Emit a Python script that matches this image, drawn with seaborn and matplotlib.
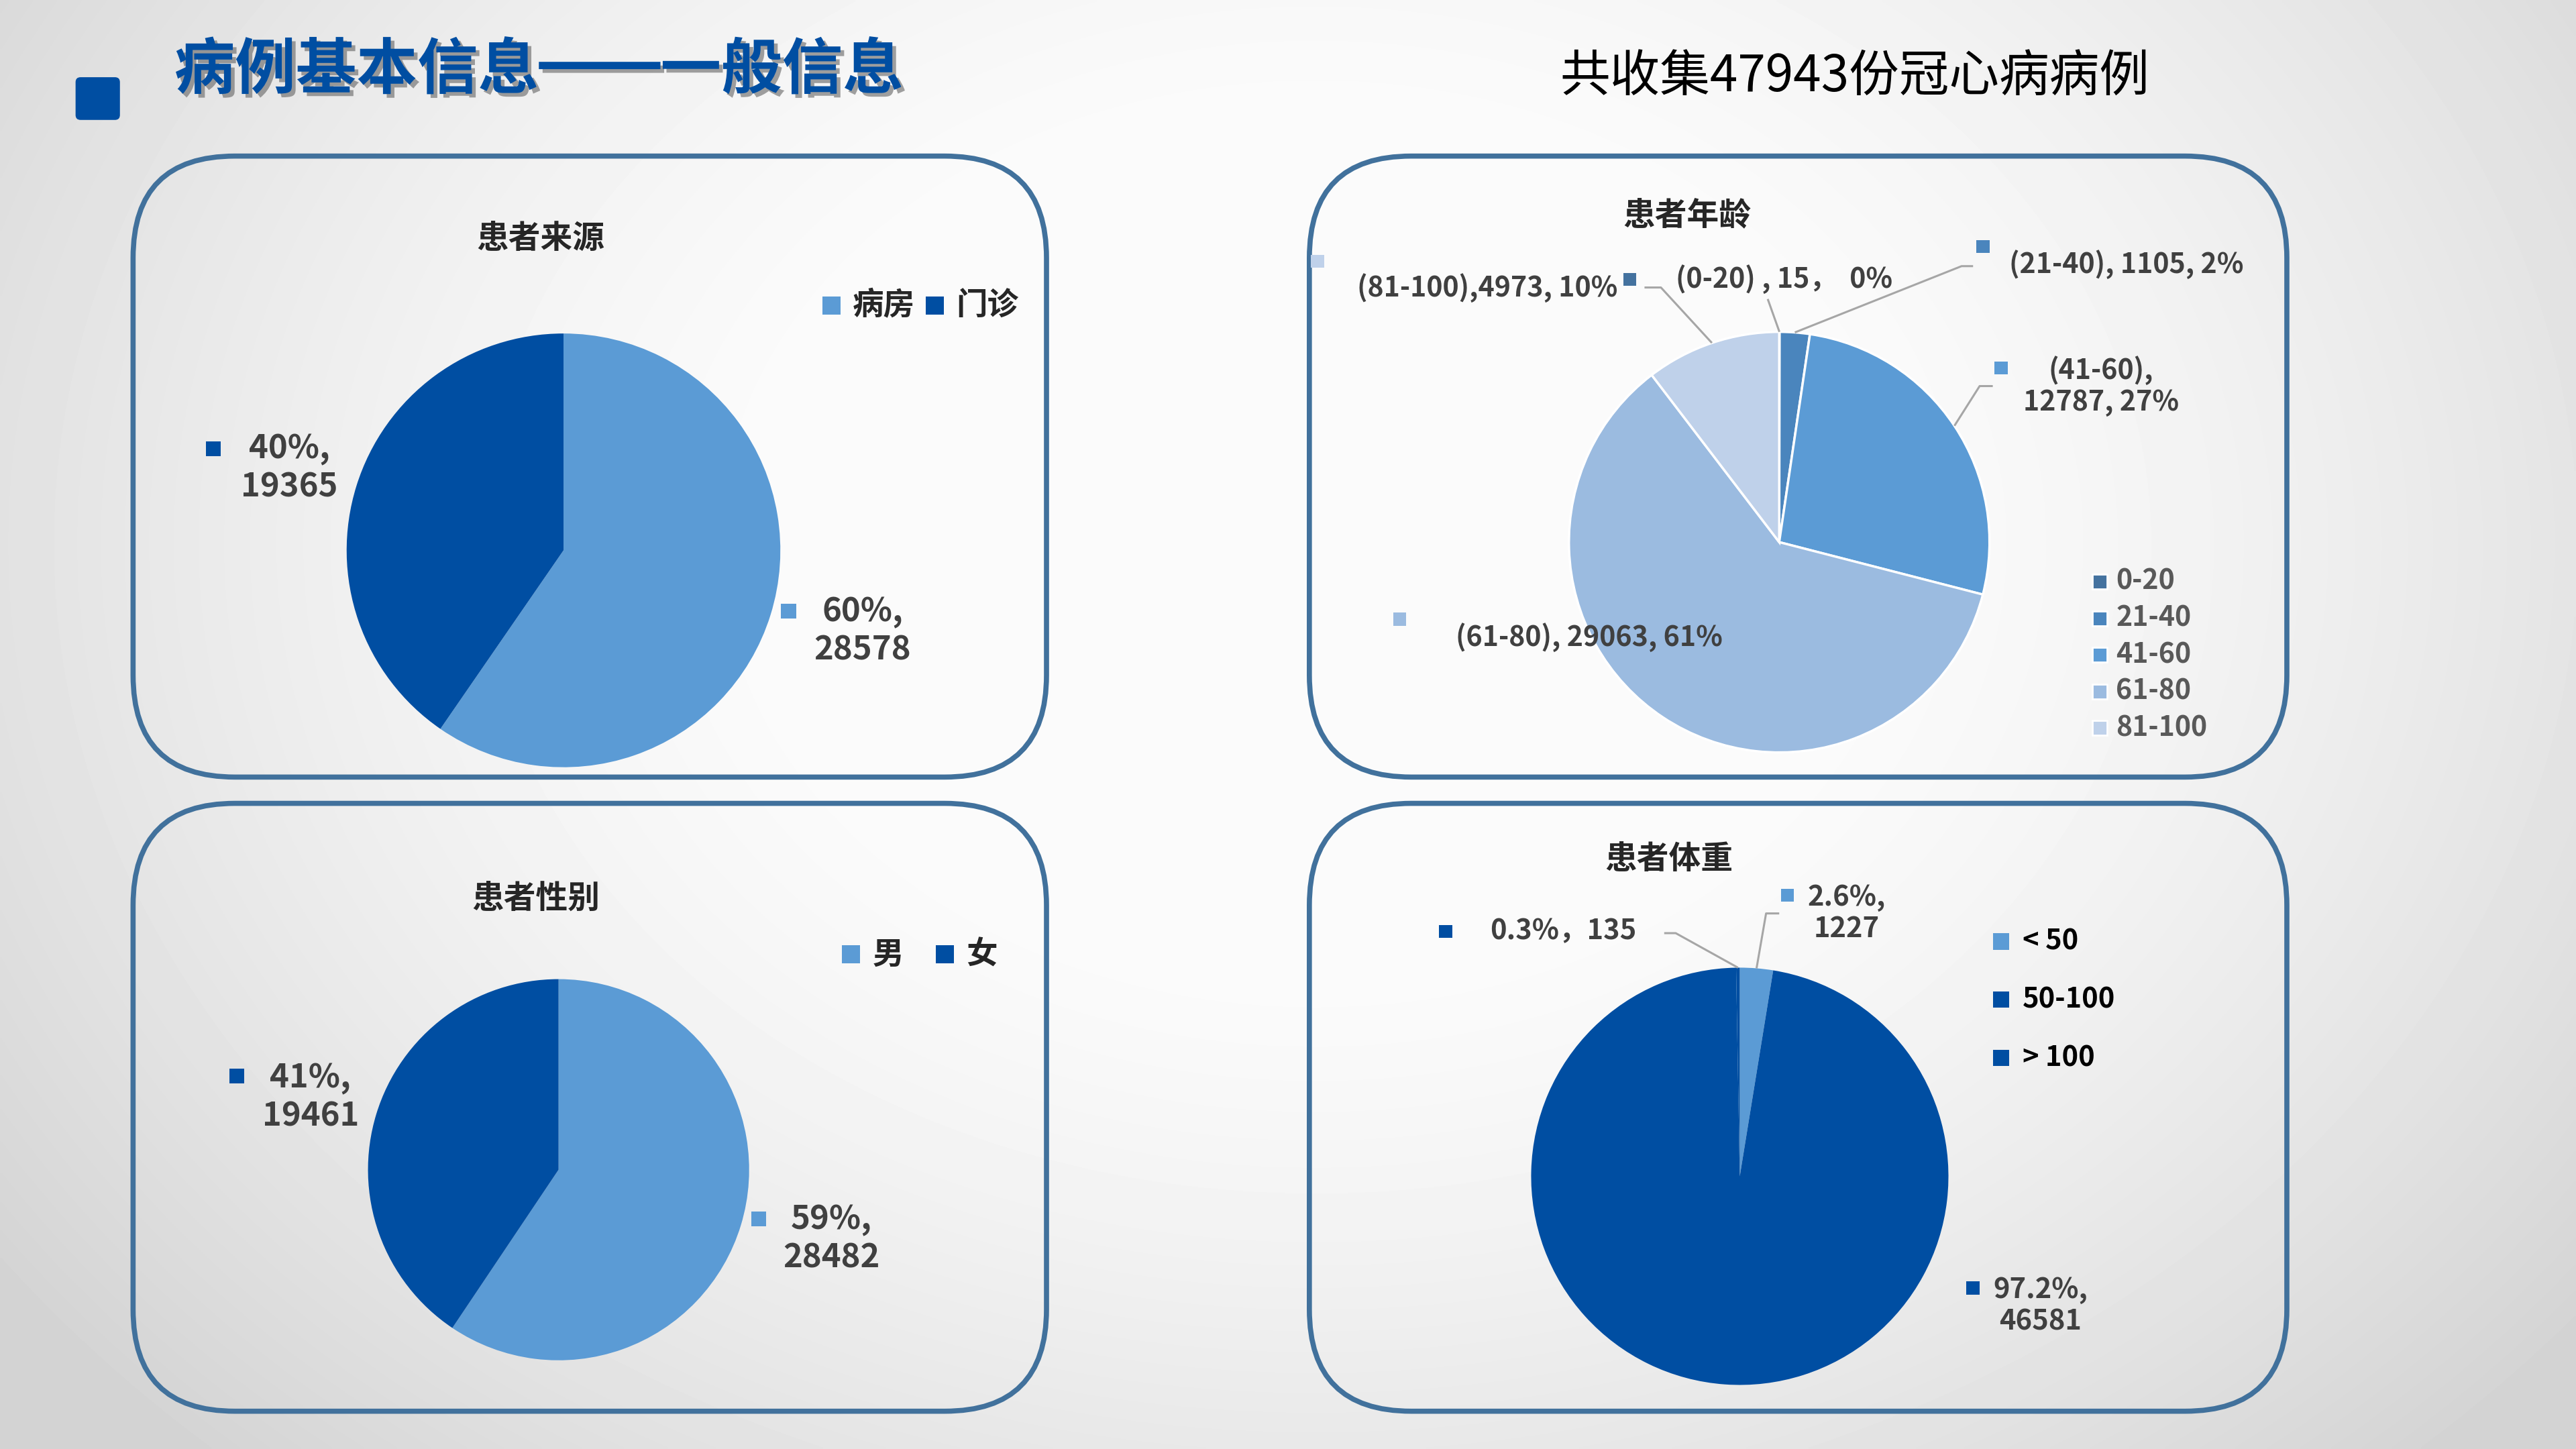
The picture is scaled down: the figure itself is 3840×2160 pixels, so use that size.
import numpy as np
import matplotlib
matplotlib.use("Agg")
import matplotlib.pyplot as plt
import matplotlib.patheffects as pe
from matplotlib.patches import FancyBboxPatch, Rectangle
import seaborn as sns

# slide grid (drawn at 3840x2160)
W, H = 1568, 882
S = 3840 / W

# ---- data ----
total_cases = 47943
source_labels = ['病房', '门诊']
source_values = [28578, 19365]
gender_labels = ['男', '女']
gender_values = [28482, 19461]
age_labels = ['0-20', '21-40', '41-60', '61-80', '81-100']
age_values = [15, 1105, 12787, 29063, 4973]
weight_labels = ['< 50', '50-100', '> 100']
weight_values = [1227, 46581, 135]

LIGHT = '#5B9BD5'
DARK = '#004EA2'
two_colors = sns.color_palette([LIGHT, DARK])
age_colors = sns.color_palette(['#44729F', '#4A85BD', '#5B9BD5', '#9BBBE0', '#BFD1EA'])
weight_colors = sns.color_palette([LIGHT, DARK, DARK])
BORDER = '#41719C'
NUM = '#404040'
LEAD = '#A6A6A6'

sns.set_theme(style="white")
plt.rcParams['font.family'] = ['Noto Sans CJK SC', 'DejaVu Sans']


def pt(e):
    """em size on the slide grid -> points"""
    return e * S * 0.72


fig = plt.figure(figsize=(38.4, 21.6), dpi=100)

# background with radial shading
bg = fig.add_axes([0, 0, 1, 1])
bg.set_xlim(0, W)
bg.set_ylim(H, 0)
bg.axis('off')
yy, xx = np.mgrid[0:H:2, 0:W:2]
d = np.sqrt(((xx - 800) / 900.0) ** 2 + ((yy - 330) / 700.0) ** 2)
shade = 251 - 40 * np.clip((d - 0.35) / 0.75, 0, 1) ** 1.4
bg.imshow(shade, cmap='gray', vmin=0, vmax=255, extent=(0, W, H, 0),
          interpolation='bilinear', aspect='auto', zorder=0)

# rounded frames
for (x0, y0, x1, y1) in [(81, 95, 637, 473), (797, 95, 1392, 473),
                         (81, 489, 637, 859), (797, 489, 1392, 859)]:
    bg.add_patch(FancyBboxPatch((x0, y0), x1 - x0, y1 - y0,
                                boxstyle="round,pad=0,rounding_size=62",
                                fill=False, edgecolor=BORDER, linewidth=5.5, zorder=2))

# header
bg.add_patch(FancyBboxPatch((46, 47), 27, 26, boxstyle="round,pad=0,rounding_size=3",
                            facecolor=DARK, edgecolor='none', zorder=3))
bg.text(106, 43, '病例基本信息\u2501\u2501一般信息', fontsize=pt(37), fontweight='bold',
        color=DARK, ha='left', va='center', zorder=3,
        path_effects=[pe.withSimplePatchShadow(offset=(4, -4), shadow_rgbFace='#555555', alpha=0.55)])
bg.text(1129, 47, f'共收集{total_cases}份冠心病病例', fontsize=pt(30.5), color='black',
        ha='center', va='center', zorder=3)


def pie_axes(cx, cy, r):
    ax = fig.add_axes([(cx - r) / W, 1 - (cy + r) / H, 2 * r / W, 2 * r / H])
    ax.set_facecolor('none')
    return ax


def draw_pie(cx, cy, r, values, colors, edge=0.0):
    ax = pie_axes(cx, cy, r)
    wedges, _ = ax.pie(values, colors=colors, startangle=90, counterclock=False,
                       radius=1, wedgeprops=dict(linewidth=edge, edgecolor='white'))
    ax.set_xlim(-1, 1)
    ax.set_ylim(-1, 1)
    ax.axis('off')
    return wedges


def edge_point(w, cx, cy, r):
    a = np.deg2rad((w.theta1 + w.theta2) / 2)
    return cx + r * np.cos(a), cy - r * np.sin(a)


w_src = draw_pie(343, 335, 132, source_values, two_colors)
w_gen = draw_pie(340, 712, 116, gender_values, two_colors)
w_age = draw_pie(1083, 330, 128, age_values, age_colors, edge=2.5)
w_wt = draw_pie(1059, 716, 127, weight_values, weight_colors)

# overlay for text, keys and leader lines
ov = fig.add_axes([0, 0, 1, 1])
ov.set_xlim(0, W)
ov.set_ylim(H, 0)
ov.axis('off')
ov.set_facecolor('none')


def key(x, y, color, size=9, border=False):
    ov.add_patch(Rectangle((x - size / 2, y - size / 2), size, size, facecolor=color,
                           edgecolor='white' if border else 'none',
                           linewidth=2 if border else 0, zorder=5))


def lead(points, w, cx, cy, r):
    ex, ey = edge_point(w, cx, cy, r)
    xs = [p[0] for p in points] + [ex]
    ys = [p[1] for p in points] + [ey]
    ov.plot(xs, ys, color=LEAD, linewidth=2.2, zorder=4, solid_capstyle='butt')


# ---- 患者来源 ----
ov.text(329, 145, '患者来源', fontsize=pt(19.5), fontweight='bold', ha='center', va='center')
key(506, 186, LIGHT, 11)
ov.text(519, 186, source_labels[0], fontsize=pt(19), fontweight='bold', ha='left', va='center')
key(569, 186, DARK, 11)
ov.text(582, 186, source_labels[1], fontsize=pt(19), fontweight='bold', ha='left', va='center')
tot = sum(source_values)
key(130, 273, DARK)
ov.text(176, 285, f'{100 * source_values[1] / tot:.0f}%,\n{source_values[1]}', fontsize=pt(20),
        fontweight='bold', color=NUM, ha='center', va='center', linespacing=1.2)
key(480, 372, LIGHT)
ov.text(525, 384, f'{100 * source_values[0] / tot:.0f}%,\n{source_values[0]}', fontsize=pt(20),
        fontweight='bold', color=NUM, ha='center', va='center', linespacing=1.2)

# ---- 患者性别 ----
ov.text(326, 547, '患者性别', fontsize=pt(19.5), fontweight='bold', ha='center', va='center')
key(518, 581, LIGHT, 11)
ov.text(531, 581, gender_labels[0], fontsize=pt(19), fontweight='bold', ha='left', va='center')
key(575, 581, DARK, 11)
ov.text(588, 581, gender_labels[1], fontsize=pt(19), fontweight='bold', ha='left', va='center')
tot = sum(gender_values)
key(144, 655, DARK)
ov.text(189, 668, f'{100 * gender_values[1] / tot:.0f}%,\n{gender_values[1]}', fontsize=pt(20),
        fontweight='bold', color=NUM, ha='center', va='center', linespacing=1.2)
key(462, 742, LIGHT)
ov.text(506, 754, f'{100 * gender_values[0] / tot:.0f}%,\n{gender_values[0]}', fontsize=pt(20),
        fontweight='bold', color=NUM, ha='center', va='center', linespacing=1.2)

# ---- 患者年龄 ----
ov.text(1027, 131, '患者年龄', fontsize=pt(19.5), fontweight='bold', ha='center', va='center')
tot = sum(age_values)
ap = [100 * v / tot for v in age_values]
fs_age = pt(16.8)
key(802, 159, age_colors[4], 8)
ov.text(826, 175, f'({age_labels[4]}),{age_values[4]}, {ap[4]:.0f}%', fontsize=fs_age,
        fontweight='bold', color=NUM, ha='left', va='center')
lead([(1001, 175), (1011, 175)], w_age[4], 1083, 330, 128)
key(992, 170, age_colors[0], 8)
ov.text(1020, 170, f'({age_labels[0]}) , {age_values[0]}，  {ap[0]:.0f}%', fontsize=fs_age,
        fontweight='bold', color=NUM, ha='left', va='center')
lead([(1076, 182)], w_age[0], 1083, 330, 128)
key(1207, 150, age_colors[1], 8)
ov.text(1223, 161, f'({age_labels[1]}), {age_values[1]}, {ap[1]:.0f}%', fontsize=fs_age,
        fontweight='bold', color=NUM, ha='left', va='center')
lead([(1201, 162), (1194, 162)], w_age[1], 1083, 330, 128)
key(1218, 224, age_colors[2], 8)
ov.text(1279, 235, f'({age_labels[2]}),\n{age_values[2]}, {ap[2]:.0f}%', fontsize=fs_age,
        fontweight='bold', color=NUM, ha='center', va='center', linespacing=1.15)
lead([(1213, 235), (1205, 235)], w_age[2], 1083, 330, 128)
key(852, 377, age_colors[3], 8)
ov.text(886, 388, f'({age_labels[3]}), {age_values[3]}, {ap[3]:.0f}%', fontsize=fs_age,
        fontweight='bold', color=NUM, ha='left', va='center', zorder=6)
for i, lab in enumerate(age_labels):
    y = 354 + i * 22.3
    key(1278, y, age_colors[i], 9, border=True)
    ov.text(1288, y, lab, fontsize=fs_age, fontweight='bold', color='#595959',
            ha='left', va='center')

# ---- 患者体重 ----
ov.text(1016, 523, '患者体重', fontsize=pt(19.5), fontweight='bold', ha='center', va='center')
tot = sum(weight_values)
wp = [100 * v / tot for v in weight_values]
fs_wt = pt(17)
key(880, 567, weight_colors[2], 8)
ov.text(907, 567, f'{wp[2]:.1f}%，{weight_values[2]}', fontsize=fs_wt, fontweight='bold',
        color=NUM, ha='left', va='center')
lead([(1013, 568), (1020, 568)], w_wt[2], 1059, 716, 127)
key(1088, 545, weight_colors[0], 8)
ov.text(1124, 556, f'{wp[0]:.1f}%,\n{weight_values[0]}', fontsize=fs_wt, fontweight='bold',
        color=NUM, ha='center', va='center', linespacing=1.15)
lead([(1083, 556), (1075, 556)], w_wt[0], 1059, 716, 127)
key(1201, 784, weight_colors[1], 8)
ov.text(1242, 795, f'{wp[1]:.1f}%,\n{weight_values[1]}', fontsize=fs_wt, fontweight='bold',
        color=NUM, ha='center', va='center', linespacing=1.15)
for i, lab in enumerate(weight_labels):
    y = 573 + i * 35.5
    key(1218, y, weight_colors[i], 10)
    ov.text(1231, y, lab, fontsize=fs_wt, fontweight='bold', color='black',
            ha='left', va='center')

fig.savefig('out.png', dpi=100)
